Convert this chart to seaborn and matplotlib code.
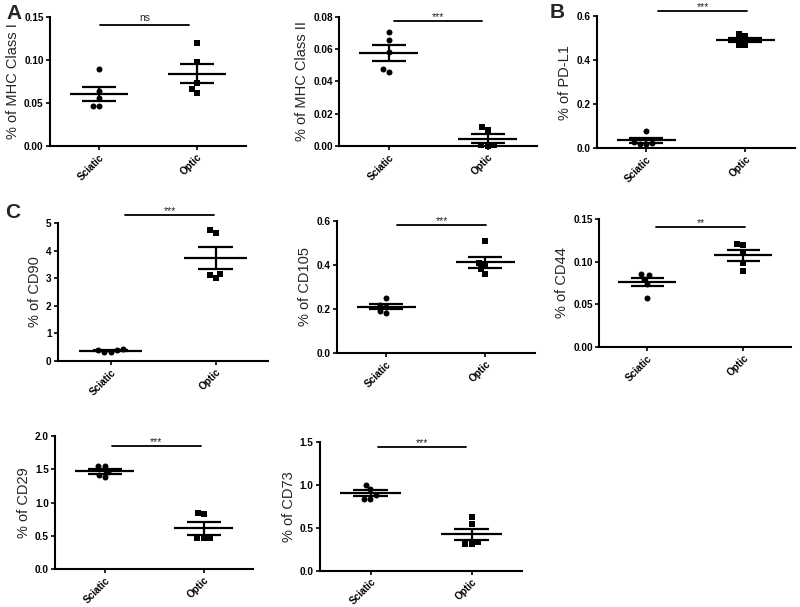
# Dependencies
import numpy as np
import pandas as pd
import seaborn as sns
import matplotlib
import matplotlib.pyplot as plt
from matplotlib.ticker import MultipleLocator, FormatStrFormatter

matplotlib.use('Agg')

# Data

groups = ["Sciatic", "Optic"]

mhc1_sciatic = [0.090, 0.064, 0.056, 0.047, 0.047]
mhc1_optic = [0.120, 0.098, 0.073, 0.066, 0.062]

mhc2_sciatic = [0.071, 0.066, 0.058, 0.048, 0.046]
mhc2_optic = [0.012, 0.010, 0.0005, 0.0003, 0.0002]

pdl1_sciatic = [0.080, 0.030, 0.025, 0.020, 0.020]
pdl1_optic = [0.520, 0.510, 0.490, 0.470, 0.470]

cd90_sciatic = [0.42, 0.40, 0.38, 0.33, 0.33]
cd90_optic = [4.75, 4.62, 3.15, 3.12, 3.00]

cd105_sciatic = [0.25, 0.22, 0.21, 0.19, 0.18]
cd105_optic = [0.51, 0.41, 0.40, 0.38, 0.36]

cd44_sciatic = [0.086, 0.084, 0.080, 0.074, 0.057]
cd44_optic = [0.121, 0.120, 0.110, 0.098, 0.089]

cd29_sciatic = [1.55, 1.55, 1.46, 1.41, 1.38]
cd29_optic = [0.85, 0.83, 0.46, 0.46, 0.46]

cd73_sciatic = [1.00, 0.95, 0.88, 0.84, 0.84]
cd73_optic = [0.62, 0.54, 0.33, 0.31, 0.31]

ylabels = ["% of MHC Class I", "% of MHC Class II", "% of PD-L1",
           "% of CD90", "% of CD105", "% of CD44",
           "% of CD29", "% of CD73"]
signif = ["ns", "***", "***", "***", "***", "**", "***", "***"]
ymax = [0.15, 0.08, 0.6, 5, 0.6, 0.15, 2.0, 1.5]
ystep = [0.05, 0.02, 0.2, 1, 0.2, 0.05, 0.5, 0.5]
yfmt = ["%.2f", "%.2f", "%.1f", "%d", "%.1f", "%.2f", "%.1f", "%.1f"]
bar_y = [0.141, 0.0775, 0.623, 5.29, 0.582, 0.1406, 1.85, 1.443]

sciatic_all = [mhc1_sciatic, mhc2_sciatic, pdl1_sciatic, cd90_sciatic,
               cd105_sciatic, cd44_sciatic, cd29_sciatic, cd73_sciatic]
optic_all = [mhc1_optic, mhc2_optic, pdl1_optic, cd90_optic,
             cd105_optic, cd44_optic, cd29_optic, cd73_optic]

# Layout (fig fractions: left, bottom, width, height) and sig-bar extents
rects = [
    [0.0625, 0.7595, 0.245, 0.2125],
    [0.424, 0.7595, 0.2475, 0.2125],
    [0.746, 0.756, 0.2475, 0.2175],
    [0.0725, 0.4053, 0.2625, 0.2273],
    [0.421, 0.4185, 0.2475, 0.2175],
    [0.749, 0.4283, 0.24, 0.2109],
    [0.069, 0.0626, 0.2475, 0.219],
    [0.40, 0.060, 0.2525, 0.2120],
]
bar_x = [(0.01, 0.92), (0.05, 0.94), (0.12, 1.02), (0.14, 0.99),
         (0.11, 1.01), (0.09, 1.02), (0.07, 0.97), (0.07, 0.95)]

# Style
sns.set_style("ticks")
plt.rcParams['font.family'] = ['Liberation Sans', 'DejaVu Sans']


def draw_panel(ax, i):
    sci = sciatic_all[i]
    opt = optic_all[i]
    df = pd.DataFrame({
        "group": ["Sciatic"] * len(sci) + ["Optic"] * len(opt),
        "value": sci + opt,
    })

    # points
    for grp, mk in zip(groups, ["o", "s"]):
        sns.swarmplot(data=df[df["group"] == grp], x="group", y="value",
                      order=groups, marker=mk, color="black", size=4.3,
                      linewidth=0, ax=ax, zorder=3, clip_on=False)

    # mean +/- SEM
    stats = df.groupby("group")["value"].agg(["mean", "sem"])
    for k, grp in enumerate(groups):
        m = stats.loc[grp, "mean"]
        s = stats.loc[grp, "sem"]
        ax.hlines(m, k - 0.3, k + 0.3, color="black", lw=1.6, zorder=4)
        ax.hlines([m - s, m + s], k - 0.17, k + 0.17, color="black", lw=1.6, zorder=4)
        ax.vlines(k, m - s, m + s, color="black", lw=1.6, zorder=4)

    # axes
    ax.set_xlim(-0.5, 1.5)
    ax.set_ylim(0, ymax[i])
    ax.yaxis.set_major_locator(MultipleLocator(ystep[i]))
    ax.yaxis.set_major_formatter(FormatStrFormatter(yfmt[i]))
    ax.set_xlabel("")
    ax.set_ylabel(ylabels[i], fontsize=10.5, labelpad=3)
    sns.despine(ax=ax)
    for sp in ["left", "bottom"]:
        ax.spines[sp].set_linewidth(1.5)
        ax.spines[sp].set_color("black")
    ax.tick_params(axis="both", direction="out", length=3, width=1.2,
                   labelsize=7.2, colors="black", pad=1.5)
    for t in ax.get_yticklabels():
        t.set_fontweight("bold")
    for t in ax.get_xticklabels():
        t.set_fontweight("bold")
        t.set_rotation(45)
        t.set_ha("right")
        t.set_rotation_mode("anchor")

    # significance bar
    x0, x1 = bar_x[i]
    off = 1.5 if signif[i] == "ns" else -1
    ax.plot([x0, x1], [bar_y[i], bar_y[i]], color="black", lw=1.3, clip_on=False)
    ax.annotate(signif[i], xy=((x0 + x1) / 2, bar_y[i]), xytext=(0, off),
                textcoords="offset points", ha="center", va="bottom",
                fontsize=7.5, annotation_clip=False)


fig = plt.figure(figsize=(8, 6.07), dpi=100)
for i, r in enumerate(rects):
    ax = fig.add_axes(r)
    draw_panel(ax, i)

# panel letters
fig.text(0.017, 0.978, "A", fontsize=15, fontweight="bold", ha="center", va="center")
fig.text(0.697, 0.980, "B", fontsize=15, fontweight="bold", ha="center", va="center")
fig.text(0.016, 0.650, "C", fontsize=15, fontweight="bold", ha="center", va="center")

fig.savefig("out.png", dpi=100)
plt.close("all")
